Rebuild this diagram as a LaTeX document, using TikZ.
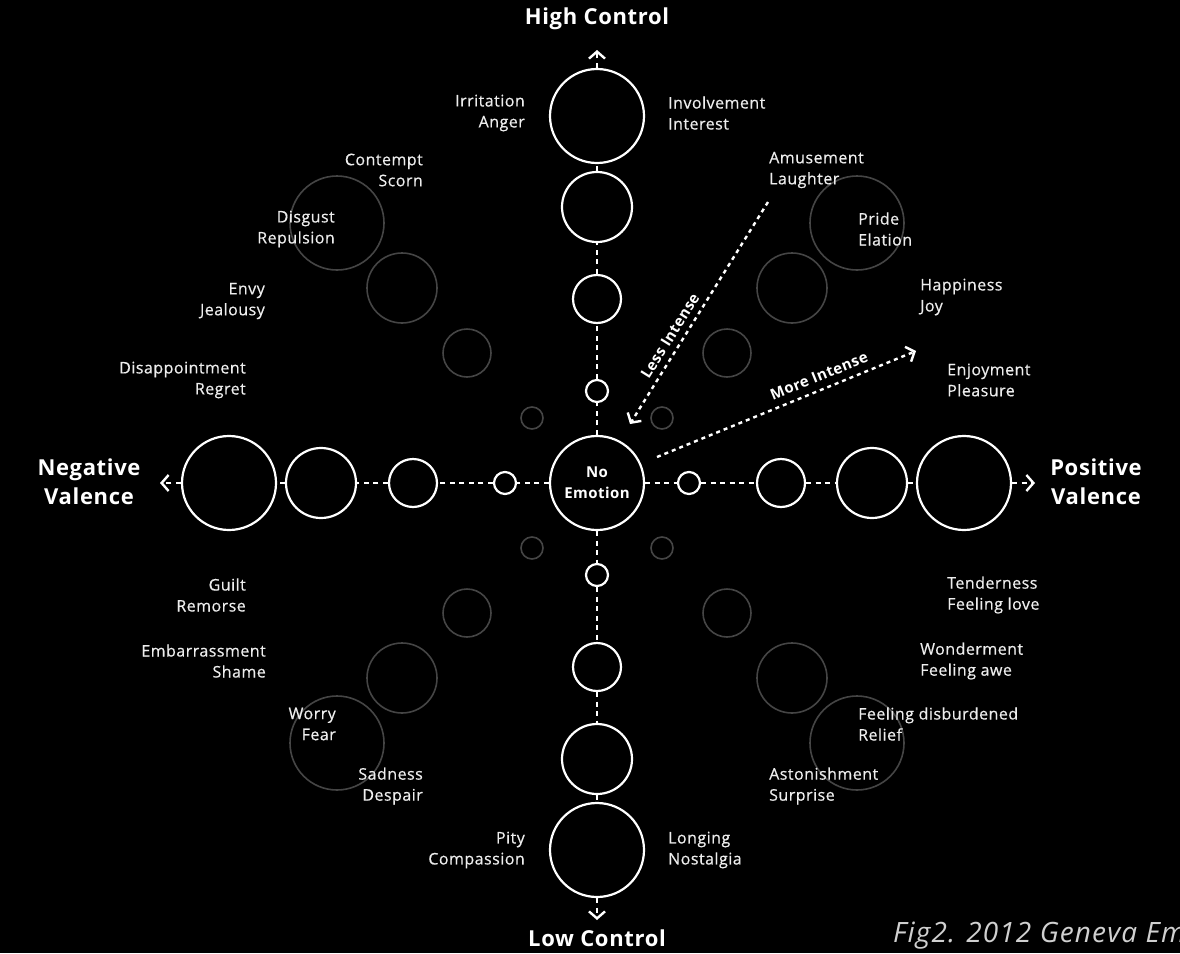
\documentclass[tikz,border=0pt]{standalone}
\usepackage{fontspec}
\setmainfont{Open Sans}
\newfontfamily\lblfont{Open Sans}[FakeBold=0.5,LetterSpace=3]
\newfontfamily\axfont{Open Sans}[LetterSpace=3]
\newfontfamily\capfont{Open Sans}[LetterSpace=4]
\usetikzlibrary{arrows.meta}
\definecolor{dimgray}{HTML}{454545}
\definecolor{labelwhite}{HTML}{EDEDED}
\definecolor{capgray}{HTML}{D0D0D0}
\begin{document}
\begin{tikzpicture}[x=1pt,y=-1pt,
  maincirc/.style={circle,draw=white,line width=2.2pt,inner sep=0pt,fill=black},
  dimcirc/.style={circle,draw=dimgray,line width=1.6pt,inner sep=0pt},
  link/.style={draw=white,line width=2.6pt,dash pattern=on 5pt off 4.5pt},
  axisarrow/.style={link,-{Straight Barb[length=7pt,width=16pt,line width=2.4pt]}},
  diagarrow/.style={draw=white,line width=2.4pt,dash pattern=on 4pt off 4pt,-{Straight Barb[length=7pt,width=16pt,line width=2.4pt]}},
  lblR/.style={text=labelwhite,font=\lblfont\fontsize{16}{21}\selectfont,inner sep=0pt,align=right,anchor=east},
  lblL/.style={text=labelwhite,font=\lblfont\fontsize{16}{21}\selectfont,inner sep=0pt,align=left,anchor=west},
  axislbl/.style={text=white,font=\axfont\bfseries\fontsize{22}{29}\selectfont,inner sep=0pt,align=center},
  intlbl/.style={text=white,font=\axfont\bfseries\fontsize{15}{17}\selectfont,inner sep=0pt}
]
\fill[black] (0,0) rectangle (1180,953);
\useasboundingbox (0,0) rectangle (1180,953);

% dim diagonal circles
\node[dimcirc,minimum size=22pt] (ul1) at (532,418) {};
\node[dimcirc,minimum size=48pt] (ul2) at (467,353) {};
\node[dimcirc,minimum size=70pt] (ul3) at (402,288) {};
\node[dimcirc,minimum size=94pt] (ul4) at (337,223) {};
\node[dimcirc,minimum size=22pt] (ur1) at (662,418) {};
\node[dimcirc,minimum size=48pt] (ur2) at (727,353) {};
\node[dimcirc,minimum size=70pt] (ur3) at (792,288) {};
\node[dimcirc,minimum size=94pt] (ur4) at (857,223) {};
\node[dimcirc,minimum size=22pt] (ll1) at (532,548) {};
\node[dimcirc,minimum size=48pt] (ll2) at (467,613) {};
\node[dimcirc,minimum size=70pt] (ll3) at (402,678) {};
\node[dimcirc,minimum size=94pt] (ll4) at (337,743) {};
\node[dimcirc,minimum size=22pt] (lr1) at (662,548) {};
\node[dimcirc,minimum size=48pt] (lr2) at (727,613) {};
\node[dimcirc,minimum size=70pt] (lr3) at (792,678) {};
\node[dimcirc,minimum size=94pt] (lr4) at (857,743) {};

% main circles
\node[maincirc,minimum size=94pt,text=white,font=\axfont\bfseries\fontsize{15}{21}\selectfont,align=center] (c) at (597,483) {No\\Emotion};
\node[maincirc,minimum size=22pt] (t1) at (597,391) {};
\node[maincirc,minimum size=48pt] (t2) at (597,299) {};
\node[maincirc,minimum size=70pt] (t3) at (597,207) {};
\node[maincirc,minimum size=94pt] (t4) at (597,116) {};
\node[maincirc,minimum size=22pt] (b1) at (597,575) {};
\node[maincirc,minimum size=48pt] (b2) at (597,667) {};
\node[maincirc,minimum size=70pt] (b3) at (597,759) {};
\node[maincirc,minimum size=94pt] (b4) at (597,850) {};
\node[maincirc,minimum size=22pt] (l1) at (505,483) {};
\node[maincirc,minimum size=48pt] (l2) at (413,483) {};
\node[maincirc,minimum size=70pt] (l3) at (321,483) {};
\node[maincirc,minimum size=94pt] (l4) at (229,483) {};
\node[maincirc,minimum size=22pt] (r1) at (689,483) {};
\node[maincirc,minimum size=48pt] (r2) at (781,483) {};
\node[maincirc,minimum size=70pt] (r3) at (872,483) {};
\node[maincirc,minimum size=94pt] (r4) at (964,483) {};

% dashed links
\draw[link] (c) -- (t1); \draw[link] (t1) -- (t2); \draw[link] (t2) -- (t3); \draw[link] (t3) -- (t4);
\draw[link] (c) -- (b1); \draw[link] (b1) -- (b2); \draw[link] (b2) -- (b3); \draw[link] (b3) -- (b4);
\draw[link] (c) -- (l1); \draw[link] (l1) -- (l2); \draw[link] (l2) -- (l3); \draw[link] (l3) -- (l4);
\draw[link] (c) -- (r1); \draw[link] (r1) -- (r2); \draw[link] (r2) -- (r3); \draw[link] (r3) -- (r4);

% axis arrows
\coordinate (topTip) at (597,50);
\coordinate (botTip) at (597,920);
\coordinate (leftTip) at (160,483);
\coordinate (rightTip) at (1035,483);
\draw[axisarrow] (t4) -- (topTip);
\draw[axisarrow] (b4) -- (botTip);
\draw[axisarrow] (l4) -- (leftTip);
\draw[axisarrow] (r4) -- (rightTip);

% axis labels
\node[axislbl] (hc) at (597,19) {High Control};
\node[axislbl] (lc) at (597,938) {Low Control};
\node[axislbl] (nv) at (89,482) {Negative\\Valence};
\node[axislbl] (pv) at (1096,482) {Positive\\Valence};

% intensity arrows
\coordinate (lessStart) at (768,202);
\coordinate (lessTip) at (630,424);
\draw[diagarrow] (lessStart) -- (lessTip);
\node[intlbl,rotate=58] (less) at (670,336) {Less Intense};
\coordinate (moreStart) at (657,457);
\coordinate (moreTip) at (916,351);
\draw[diagarrow] (moreStart) -- (moreTip);
\node[intlbl,rotate=22] (more) at (819,376) {More Intense};

% emotion labels
\node[lblR] (irr) at (525,113) {Irritation\\Anger};
\node[lblL] (inv) at (668,113) {Involvement\\Interest};
\node[lblR] (con) at (423,170) {Contempt\\Scorn};
\node[lblL] (amu) at (769,170) {Amusement\\Laughter};
\node[lblR] (dis) at (335,229) {Disgust\\Repulsion};
\node[lblL] (pri) at (858,229) {Pride\\Elation};
\node[lblR] (env) at (265,301) {Envy\\Jealousy};
\node[lblL] (hap) at (920,297) {Happiness\\Joy};
\node[lblR] (dap) at (246,380) {Disappointment\\Regret};
\node[lblL] (enj) at (947,380) {Enjoyment\\Pleasure};
\node[lblR] (gui) at (246,595) {Guilt\\Remorse};
\node[lblL] (ten) at (947,595) {Tenderness\\Feeling love};
\node[lblR] (emb) at (266,661) {Embarrassment\\Shame};
\node[lblL] (won) at (920,661) {Wonderment\\Feeling awe};
\node[lblR] (wor) at (336,724) {Worry\\Fear};
\node[lblL] (rel) at (858,724) {Feeling disburdened\\Relief};
\node[lblR] (sad) at (423,786) {Sadness\\Despair};
\node[lblL] (ast) at (769,786) {Astonishment\\Surprise};
\node[lblR] (pit) at (525,850) {Pity\\Compassion};
\node[lblL] (lon) at (668,850) {Longing\\Nostalgia};

% caption
\begin{scope}
\clip (0,0) rectangle (1180,953);
\node[anchor=base west,inner sep=0pt,text=capgray,font=\capfont\itshape\fontsize{28}{32}\selectfont] (cap) at (893,942) {Fig2. 2012 Geneva Em};
\end{scope}
\end{tikzpicture}
\end{document}
